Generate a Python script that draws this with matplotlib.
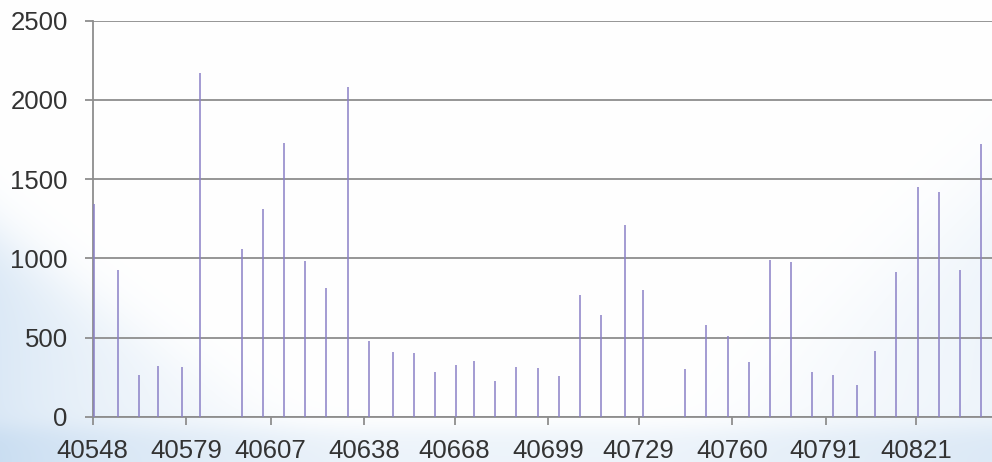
import numpy as np
import matplotlib
matplotlib.use("Agg")
import matplotlib.pyplot as plt

# Excel-style date serials and weekly values
dates = [40548, 40556, 40563, 40569, 40577, 40583, 40597, 40604, 40611, 40618,
         40625, 40632, 40639, 40647, 40654, 40661, 40668, 40674, 40681, 40688,
         40695, 40702, 40709, 40716, 40724, 40730, 40744, 40751, 40758, 40765,
         40772, 40779, 40786, 40793, 40801, 40807, 40814, 40821, 40828, 40835,
         40842]
values = [1343, 926, 263, 318, 314, 2172, 1059, 1311, 1730, 981,
          814, 2079, 476, 408, 402, 282, 324, 350, 227, 314,
          307, 259, 768, 640, 1210, 802, 301, 579, 508, 345,
          991, 977, 282, 263, 200, 415, 912, 1448, 1420, 926,
          1720]
x_ticks = [40548, 40579, 40607, 40638, 40668, 40699, 40729, 40760, 40791, 40821]
y_ticks = [0, 500, 1000, 1500, 2000, 2500]

W, H = 992, 462
BAR_COLOR = "#8a80c6"
GRID_COLOR = "#8e8e8e"
TEXT_COLOR = "#333333"

plt.rcParams["font.family"] = ["Liberation Sans", "DejaVu Sans"]

fig = plt.figure(figsize=(W / 100, H / 100), dpi=100)

# decorative light-blue swoosh background
X, Y = np.meshgrid(np.arange(W), np.arange(H))
alpha = np.zeros((H, W))
left_edge = 235 + 0.72 * X - 0.0002 * X ** 2
alpha += 1 / (1 + np.exp(-(Y - left_edge) / 20)) * np.exp(-X / 200) * 0.6
right_edge = 430 - 0.79 * (X - 690)
alpha += 1 / (1 + np.exp(-(Y - right_edge) / 35)) * np.clip((X - 620) / 450, 0, 1) * 0.35
alpha += 1 / (1 + np.exp(-(Y - 428) / 6)) * 0.3
alpha = np.clip(alpha, 0, 1)[..., None]
blue = np.array([196, 218, 240]) / 255.0
bg = (1 - alpha) * 1.0 + alpha * blue
bg_ax = fig.add_axes([0, 0, 1, 1], zorder=-1)
bg_ax.imshow(bg, aspect="auto", extent=[0, 1, 0, 1])
bg_ax.axis("off")

ax = fig.add_axes([92.7 / W, (H - 416.7) / H, (W - 92.7) / W, 396 / H])
ax.patch.set_alpha(0)
ax.vlines(np.array(dates) + 0.5, 0, values, color=BAR_COLOR, lw=1.1, zorder=3)

ax.set_xlim(40548, 40548 + (W - 92.7) / 3.0158)
ax.set_ylim(0, 2500)
ax.set_xticks(x_ticks)
ax.set_xticklabels([str(t) for t in x_ticks])
ax.set_yticks(y_ticks)
ax.grid(axis="y", color=GRID_COLOR, lw=1.3, zorder=1)
ax.set_axisbelow(True)

for side in ["top", "right"]:
    ax.spines[side].set_visible(False)
for side in ["left", "bottom"]:
    ax.spines[side].set_color(GRID_COLOR)
    ax.spines[side].set_linewidth(1.3)

ax.tick_params(axis="both", colors=GRID_COLOR, labelcolor=TEXT_COLOR,
               labelsize=18.5, length=6, width=1.3)
ax.tick_params(axis="y", pad=12)
ax.tick_params(axis="x", pad=10)

fig.savefig("out.png", dpi=100)
